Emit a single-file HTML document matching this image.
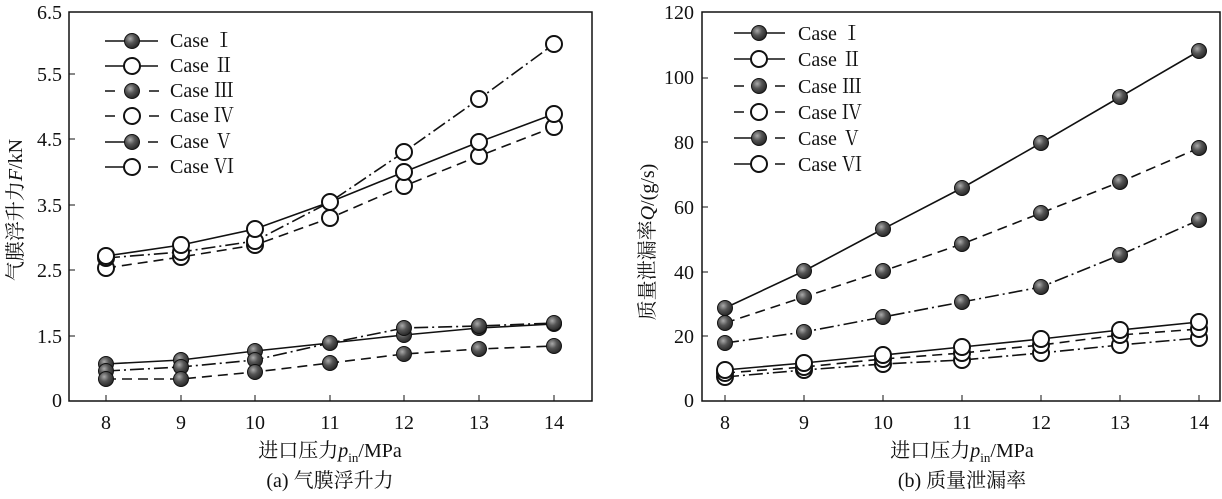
<!DOCTYPE html>
<html><head><meta charset="utf-8"><style>
body{margin:0;background:#fff}
svg text{font-family:"Liberation Serif","Noto Serif CJK SC",serif;fill:#111}
</style></head><body>
<svg width="1222" height="494" viewBox="0 0 1222 494" xmlns="http://www.w3.org/2000/svg">
<defs>
<radialGradient id="g" cx="0.38" cy="0.35" r="0.7">
<stop offset="0" stop-color="#aaa"/><stop offset="0.45" stop-color="#555"/><stop offset="1" stop-color="#222"/>
</radialGradient>
<symbol id="f" overflow="visible"><circle r="7.5" fill="url(#g)" stroke="#111" stroke-width="1"/></symbol>
<symbol id="o" overflow="visible"><circle r="8" fill="#fff" stroke="#111" stroke-width="2"/></symbol>
</defs>
<g fill="none" stroke="#111" stroke-width="1.5">
<rect x="69" y="12" width="523" height="389"/>
<rect x="702" y="12" width="518" height="389"/>
</g>
<g stroke="#111" stroke-width="1">
<path d="M106 401v-6M181 401v-6M255 401v-6M330 401v-6M404 401v-6M479 401v-6M554 401v-6"/>
<path d="M69 74h6M69 139h6M69 205h6M69 270h6M69 336h6"/>
<path d="M725 401v-6M804 401v-6M883 401v-6M962 401v-6M1041 401v-6M1120 401v-6M1199 401v-6"/>
<path d="M702 336h6M702 272h6M702 207h6M702 142h6M702 78h6"/>
</g>
<g font-size="20" text-anchor="end">
<text x="62" y="19">6.5</text><text x="62" y="81">5.5</text><text x="62" y="146">4.5</text><text x="62" y="212">3.5</text><text x="62" y="277">2.5</text><text x="62" y="343">1.5</text><text x="62" y="407">0</text>
<text x="694" y="19">120</text><text x="694" y="84">100</text><text x="694" y="149">80</text><text x="694" y="214">60</text><text x="694" y="279">40</text><text x="694" y="343">20</text><text x="694" y="407">0</text>
</g>
<g font-size="20" text-anchor="middle">
<text x="106" y="429">8</text><text x="181" y="429">9</text><text x="255" y="429">10</text><text x="330" y="429">11</text><text x="404" y="429">12</text><text x="479" y="429">13</text><text x="554" y="429">14</text>
<text x="725" y="429">8</text><text x="804" y="429">9</text><text x="883" y="429">10</text><text x="962" y="429">11</text><text x="1041" y="429">12</text><text x="1120" y="429">13</text><text x="1199" y="429">14</text>
<text x="330" y="457">进口压力<tspan font-style="italic">p</tspan><tspan font-size="13" dy="5">in</tspan><tspan dy="-5">/MPa</tspan></text>
<text x="962" y="457">进口压力<tspan font-style="italic">p</tspan><tspan font-size="13" dy="5">in</tspan><tspan dy="-5">/MPa</tspan></text>
<text x="330" y="487">(a) 气膜浮升力</text>
<text x="962" y="487">(b) 质量泄漏率</text>
<text transform="translate(22,210) rotate(-90)">气膜浮升力<tspan font-style="italic">F</tspan>/kN</text>
<text transform="translate(654,242) rotate(-90)">质量泄漏率<tspan font-style="italic">Q</tspan>/(g/s)</text>
</g>
<g fill="none" stroke="#111" stroke-width="1.6">
<polyline points="106,364 181,360 255,351 330,343 404,335 479,328 554,324"/>
<polyline points="106,371 181,367 255,360 330,343 404,328 479,326 554,323" stroke-dasharray="14,4,2,4"/>
<polyline points="106,379 181,379 255,372 330,363 404,354 479,349 554,346" stroke-dasharray="10,6"/>
<polyline points="106,256 181,245 255,229 330,202 404,172 479,142 554,114"/>
<polyline points="106,268 181,257 255,245 330,218 404,186 479,156 554,127" stroke-dasharray="10,6"/>
<polyline points="106,258 181,252 255,241 330,202 404,152 479,99 554,44" stroke-dasharray="14,4,2,4"/>
</g>
<g>
<use href="#f" x="106" y="364"/><use href="#f" x="181" y="360"/><use href="#f" x="255" y="351"/><use href="#f" x="330" y="343"/><use href="#f" x="404" y="335"/><use href="#f" x="479" y="328"/><use href="#f" x="554" y="324"/>
<use href="#f" x="106" y="371"/><use href="#f" x="181" y="367"/><use href="#f" x="255" y="360"/><use href="#f" x="404" y="328"/><use href="#f" x="479" y="326"/><use href="#f" x="554" y="323"/>
<use href="#f" x="106" y="379"/><use href="#f" x="181" y="379"/><use href="#f" x="255" y="372"/><use href="#f" x="330" y="363"/><use href="#f" x="404" y="354"/><use href="#f" x="479" y="349"/><use href="#f" x="554" y="346"/>
<use href="#o" x="106" y="268"/><use href="#o" x="181" y="257"/><use href="#o" x="255" y="245"/><use href="#o" x="330" y="218"/><use href="#o" x="404" y="186"/><use href="#o" x="479" y="156"/><use href="#o" x="554" y="127"/>
<use href="#o" x="106" y="258"/><use href="#o" x="181" y="252"/><use href="#o" x="255" y="241"/><use href="#o" x="404" y="152"/><use href="#o" x="479" y="99"/><use href="#o" x="554" y="44"/>
<use href="#o" x="106" y="256"/><use href="#o" x="181" y="245"/><use href="#o" x="255" y="229"/><use href="#o" x="330" y="202"/><use href="#o" x="404" y="172"/><use href="#o" x="479" y="142"/><use href="#o" x="554" y="114"/>
</g>
<g fill="none" stroke="#111" stroke-width="1.6">
<polyline points="725,308 804,271 883,229 962,188 1041,143 1120,97 1199,51"/>
<polyline points="725,323 804,297 883,271 962,244 1041,213 1120,182 1199,148" stroke-dasharray="10,6"/>
<polyline points="725,343 804,332 883,317 962,302 1041,287 1120,255 1199,220" stroke-dasharray="14,4,2,4"/>
<polyline points="725,370 804,363 883,355 962,347 1041,339 1120,330 1199,322"/>
<polyline points="725,373 804,367 883,359 962,353 1041,345 1120,335 1199,329" stroke-dasharray="10,6"/>
<polyline points="725,377 804,370 883,364 962,360 1041,353 1120,345 1199,338" stroke-dasharray="14,4,2,4"/>
</g>
<g>
<use href="#f" x="725" y="308"/><use href="#f" x="804" y="271"/><use href="#f" x="883" y="229"/><use href="#f" x="962" y="188"/><use href="#f" x="1041" y="143"/><use href="#f" x="1120" y="97"/><use href="#f" x="1199" y="51"/>
<use href="#f" x="725" y="323"/><use href="#f" x="804" y="297"/><use href="#f" x="883" y="271"/><use href="#f" x="962" y="244"/><use href="#f" x="1041" y="213"/><use href="#f" x="1120" y="182"/><use href="#f" x="1199" y="148"/>
<use href="#f" x="725" y="343"/><use href="#f" x="804" y="332"/><use href="#f" x="883" y="317"/><use href="#f" x="962" y="302"/><use href="#f" x="1041" y="287"/><use href="#f" x="1120" y="255"/><use href="#f" x="1199" y="220"/>
<use href="#o" x="725" y="377"/><use href="#o" x="804" y="370"/><use href="#o" x="883" y="364"/><use href="#o" x="962" y="360"/><use href="#o" x="1041" y="353"/><use href="#o" x="1120" y="345"/><use href="#o" x="1199" y="338"/>
<use href="#o" x="725" y="373"/><use href="#o" x="804" y="367"/><use href="#o" x="883" y="359"/><use href="#o" x="962" y="353"/><use href="#o" x="1041" y="345"/><use href="#o" x="1120" y="335"/><use href="#o" x="1199" y="329"/>
<use href="#o" x="725" y="370"/><use href="#o" x="804" y="363"/><use href="#o" x="883" y="355"/><use href="#o" x="962" y="347"/><use href="#o" x="1041" y="339"/><use href="#o" x="1120" y="330"/><use href="#o" x="1199" y="322"/>
</g>
<g stroke="#111" stroke-width="1.6">
<path d="M105 41h53M105 66h53"/>
<path d="M105 91h10M149 91h10M105 116h10M149 116h10"/>
<path d="M105 142h27M148 142h10M105 167h27M148 167h10"/>
<path d="M734 33h51M734 59h51"/>
<path d="M734 86h10M775 86h10M734 112h10M775 112h10"/>
<path d="M734 138h25M775 138h10M734 164h25M775 164h10"/>
</g>
<use href="#f" x="132" y="41"/><use href="#o" x="132" y="66"/><use href="#f" x="132" y="91"/><use href="#o" x="132" y="116"/><use href="#f" x="132" y="142"/><use href="#o" x="132" y="167"/>
<use href="#f" x="759" y="33"/><use href="#o" x="759" y="59"/><use href="#f" x="759" y="86"/><use href="#o" x="759" y="112"/><use href="#f" x="759" y="138"/><use href="#o" x="759" y="164"/>
<g font-size="20">
<text x="170" y="47">Case Ⅰ</text><text x="170" y="72">Case Ⅱ</text><text x="170" y="97">Case Ⅲ</text><text x="170" y="122">Case Ⅳ</text><text x="170" y="148">Case Ⅴ</text><text x="170" y="173">Case Ⅵ</text>
<text x="798" y="40">Case Ⅰ</text><text x="798" y="66">Case Ⅱ</text><text x="798" y="93">Case Ⅲ</text><text x="798" y="119">Case Ⅳ</text><text x="798" y="145">Case Ⅴ</text><text x="798" y="171">Case Ⅵ</text>
</g>
</svg>
</body></html>
